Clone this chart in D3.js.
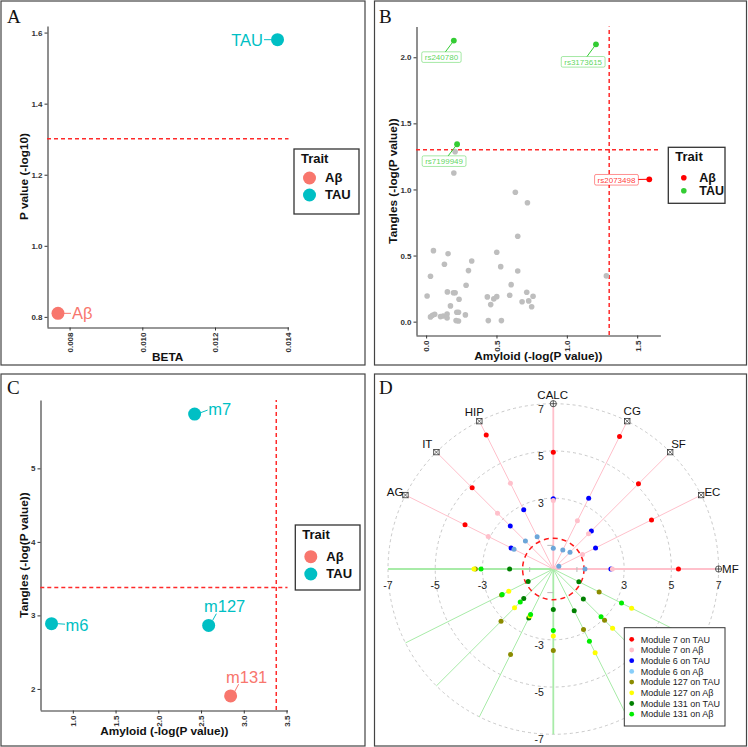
<!DOCTYPE html>
<html><head><meta charset="utf-8">
<script src="https://cdn.jsdelivr.net/npm/d3@7"></script>
<style>body{margin:0;background:#fff} svg{display:block}</style>
</head><body>
<svg id="fig" width="748" height="747"></svg>
<script>
// ---------- Panel A data ----------
const traitsA = ["Aβ", "TAU"];
const betaA = [0.00768, 0.01372];
const pvalA = [0.81, 1.58];
const thresholdA = 1.30103;
const xTicksA = [0.008, 0.010, 0.012, 0.014];
const yTicksA = [0.8, 1.0, 1.2, 1.4, 1.6];

// ---------- Panel B data ----------
const snpLabels = ["rs240780", "rs3173615", "rs7199949", "rs2073498"];
const snpTrait = ["TAU", "TAU", "TAU", "Aβ"];
const snpAmyloid = [0.197, 1.207, 0.220, 1.586];
const snpTangles = [2.126, 2.098, 1.342, 1.077];
const bgAmyloid = [0.206,0.197,0.634,0.720,0.651,0.052,0.156,0.502,0.324,0.130,0.530,0.301,0.651,0.031,1.281,0.284,0.604,0.007,0.151,0.194,0.206,0.234,0.173,0.435,0.502,0.481,0.459,0.594,0.715,0.760,0.682,0.729,0.750,0.031,0.045,0.061,0.102,0.121,0.149,0.149,0.218,0.230,0.213,0.230,0.279,0.442,0.535];
const bgTangles = [1.286,1.125,0.979,0.900,0.646,0.537,0.514,0.525,0.459,0.434,0.416,0.386,0.383,0.343,0.346,0.275,0.280,0.194,0.225,0.219,0.219,0.169,0.119,0.187,0.189,0.172,0.129,0.200,0.222,0.192,0.151,0.157,0.113,0.036,0.048,0.056,0.038,0.043,0.058,0.028,0.071,0.071,0.008,0.005,0.051,0.008,0.008];
const thresholdB = 1.30103;
const xTicksB = [0, 0.5, 1.0, 1.5];
const yTicksB = [0, 0.5, 1.0, 1.5, 2.0];

// ---------- Panel C data ----------
const moduleLabels = ["m7", "m6", "m127", "m131"];
const moduleTrait = ["TAU", "TAU", "TAU", "Aβ"];
const modAmyloid = [2.425, 0.751, 2.589, 2.846];
const modTangles = [5.738, 2.887, 2.864, 1.905];
const thresholdC = 3.38;
const xTicksC = [1.0, 1.5, 2.0, 2.5, 3.0, 3.5];
const yTicksC = [2, 3, 4, 5];

// ---------- Panel D data ----------
const regions = ["MF", "EC", "SF", "CG", "CALC", "HIP", "IT", "AG"];
const regionAngles = [0, 26.57, 45, 63.43, 90, 116.57, 135, 153.43];
const regionMarker = ["plus", "box", "box", "box", "plus", "box", "box", "box"];
const seriesNames = ["Module 7 on TAU", "Module 7 on Aβ", "Module 6 on TAU", "Module 6 on Aβ",
                     "Module 127 on TAU", "Module 127 on Aβ", "Module 131 on TAU", "Module 131 on Aβ"];
const m7TAU   = [5.30, 4.65, 5.10, 6.27, 4.94, 6.35, 4.86, 4.18];
const m7Ab    = [2.50, 1.38, 2.11, 2.28, 2.90, 4.06, 3.34, 3.08];
const m6TAU   = [2.44, 2.00, 2.28, 3.35, 2.97, 2.80, 2.58, 2.00];
const m6Ab    = [1.34, 0.26, 1.00, 0.90, 0.88, 1.53, 1.67, 1.86];
const m127TAU = [-3.30, -2.45, -3.13, -4.05, -3.45, -2.86, -3.07, -2.17];
const m127Ab  = [-3.36, -2.11, -2.32, -2.22, -2.84, -3.96, -3.55, -3.71];
const m131TAU = [-1.85, -1.19, -1.77, -2.32, -1.72, -1.98, -1.80, -1.21];
const m131Ab  = [-3.06, -2.42, -1.98, -2.15, -2.60, -3.42, -2.86, -3.23];
const seriesValues = [m7TAU, m7Ab, m6TAU, m6Ab, m127TAU, m127Ab, m131TAU, m131Ab];
const thresholdD = 1.30103;
const gridRadiiD = [3, 5, 7];
const axisLabelsD = [-7, -5, -3, 3, 5, 7];

// ---------- styles ----------
const SANS = "'Liberation Sans', Arial, Helvetica, sans-serif";
const SERIF = "'Liberation Serif', 'Times New Roman', serif";
const traitColorAC = {"Aβ": "#F8766D", "TAU": "#00BFC4"};
const traitColorB = {"Aβ": "#FF0000", "TAU": "#33CC33"};
const seriesColors = ["#FF0000", "#FFC0CB", "#0000FF", "#6CA6D9", "#8B8B00", "#FFFF00", "#008000", "#00EE00"];
const legendColorsD = ["#FF0000", "#FFC0CB", "#0000FF", "#87CEFA", "#8B8B00", "#FFFF00", "#008000", "#00EE00"];
const drawOrderD = [0, 2, 1, 3, 4, 6, 5, 7];
const snap = v => Math.round(v - 0.5) + 0.5;

const svg = d3.select("#fig");
svg.append("rect").attr("width", 748).attr("height", 747).attr("fill", "#fff");

// panel borders
[[1, 1, 364, 364], [374.5, 1, 372, 364], [1, 374, 364, 372], [374.5, 374, 372, 372]].forEach(([x, y, w, h]) => {
  svg.append("rect").attr("x", x).attr("y", y).attr("width", w).attr("height", h)
    .attr("fill", "none").attr("stroke", "#444").attr("stroke-width", 1.2);
});

// panel letters
[["A", 7, 23], ["B", 379, 23], ["C", 7, 394], ["D", 379, 394]].forEach(([t, x, y]) => {
  svg.append("text").attr("x", x).attr("y", y).text(t)
    .attr("font-family", SERIF).attr("font-size", 19).attr("fill", "#111");
});

function expand(vals) {
  const e = d3.extent(vals), p = (e[1] - e[0]) * 0.05;
  return [e[0] - p, e[1] + p];
}

function drawAxes(x, y, xTicks, yTicks, xFmt, yFmt, xTitle, yTitle, xTitlePos, yTitlePos) {
  const x0 = x.range()[0], y0 = y.range()[0];
  const ga = svg.append("g");
  const ax = ga.append("g").attr("transform", `translate(0,${snap(y0)})`)
    .call(d3.axisBottom(x).tickValues(xTicks).tickFormat(d3.format(xFmt)).tickSize(3).tickSizeOuter(0));
  ax.selectAll("text").attr("transform", "rotate(-90)").attr("x", -5).attr("y", 0).attr("dy", "0.35em")
    .attr("text-anchor", "end");
  const ay = ga.append("g").attr("transform", `translate(${snap(x0)},0)`)
    .call(d3.axisLeft(y).tickValues(yTicks).tickFormat(d3.format(yFmt)).tickSize(3).tickSizeOuter(0));
  ay.selectAll("text").attr("x", -5);
  ga.selectAll(".domain").attr("stroke", "#333").attr("stroke-width", 1.1);
  ga.selectAll(".tick line").attr("stroke", "#333");
  ga.selectAll(".tick text").attr("font-family", SANS).attr("font-size", 8)
    .attr("font-weight", "bold").attr("fill", "#333");
  svg.append("text").attr("x", xTitlePos[0]).attr("y", xTitlePos[1]).attr("text-anchor", "middle")
    .attr("font-family", SANS).attr("font-size", 11.8).attr("font-weight", "bold").attr("fill", "#111").text(xTitle);
  svg.append("text").attr("transform", `translate(${yTitlePos[0]},${yTitlePos[1]}) rotate(-90)`)
    .attr("text-anchor", "middle").attr("font-family", SANS).attr("font-size", 11.8)
    .attr("font-weight", "bold").attr("fill", "#111").text(yTitle);
}

function drawLegend(box, colors, r, itemY, fs) {
  const [bx, by, bw, bh] = box;
  svg.append("rect").attr("x", bx).attr("y", by).attr("width", bw).attr("height", bh)
    .attr("fill", "#fff").attr("stroke", "#333").attr("stroke-width", 1.3);
  svg.append("text").attr("x", bx + 7).attr("y", by + 13.5).text("Trait")
    .attr("font-family", SANS).attr("font-size", 13).attr("font-weight", "bold").attr("fill", "#111");
  traitsA.forEach((t, i) => {
    const cy = by + itemY[i];
    svg.append("circle").attr("cx", bx + 15.5).attr("cy", cy).attr("r", r).attr("fill", colors[t]);
    svg.append("text").attr("x", bx + 31).attr("y", cy + 4.4).text(t)
      .attr("font-family", SANS).attr("font-size", fs).attr("font-weight", "bold").attr("fill", "#111");
  });
}

function dashedH(x, y, v) {
  svg.append("line").attr("x1", x.range()[0]).attr("x2", x.range()[1]).attr("y1", y(v)).attr("y2", y(v))
    .attr("stroke", "#FF2A2A").attr("stroke-width", 1.5).attr("stroke-dasharray", "4,3");
}
function dashedV(x, y, v) {
  svg.append("line").attr("y1", y.range()[0]).attr("y2", y.range()[1]).attr("x1", x(v)).attr("x2", x(v))
    .attr("stroke", "#FF2A2A").attr("stroke-width", 1.5).attr("stroke-dasharray", "4,3");
}

// ================= Panel A =================
{
  const x = d3.scaleLinear().domain(expand(betaA)).range([47, 288.5]);
  const y = d3.scaleLinear().domain(expand(pvalA)).range([327, 26]);
  drawAxes(x, y, xTicksA, yTicksA, ".3f", ".1f", "BETA", "P value (-log10)", [167.7, 361], [27.5, 176.5]);
  dashedH(x, y, thresholdA);
  const labelOff = [{dx: 14, anchor: "start"}, {dx: -14.5, anchor: "end"}];
  traitsA.forEach((t, i) => {
    const px = x(betaA[i]), py = y(pvalA[i]), o = labelOff[i];
    const s = Math.sign(o.dx);
    svg.append("line").attr("x1", px + s * 6).attr("x2", px + o.dx - s * 1).attr("y1", py).attr("y2", py)
      .attr("stroke", traitColorAC[t]).attr("stroke-width", 1);
    svg.append("circle").attr("cx", px).attr("cy", py).attr("r", 6.5).attr("fill", traitColorAC[t]);
    svg.append("text").attr("x", px + o.dx).attr("y", py + 6).attr("text-anchor", o.anchor).text(t)
      .attr("font-family", SANS).attr("font-size", 16.5).attr("fill", traitColorAC[t]);
  });
  drawLegend([294, 149, 65, 65], traitColorAC, 6.5, [29, 46], 13);
}

// ================= Panel B =================
{
  const allX = bgAmyloid.concat(snpAmyloid, [thresholdB]);
  const allY = bgTangles.concat(snpTangles, [thresholdB]);
  const x = d3.scaleLinear().domain(expand(allX)).range([416, 660.4]);
  const y = d3.scaleLinear().domain(expand(allY)).range([335, 26.6]);
  drawAxes(x, y, xTicksB, yTicksB, ".1f", ".1f", "Amyloid (-log(P value))", "Tangles (-log(P value))", [538.3, 360], [397, 181]);
  dashedH(x, y, thresholdB);
  dashedV(x, y, thresholdB);
  bgAmyloid.forEach((a, i) => {
    svg.append("circle").attr("cx", x(a)).attr("cy", y(bgTangles[i])).attr("r", 2.8).attr("fill", "#BEBEBE");
  });
  const boxOff = [[-12.4, 16.5], [-12.8, 17.5], [-13, 16.9], [-32.8, 0.5]];
  snpLabels.forEach((lab, i) => {
    const px = x(snpAmyloid[i]), py = y(snpTangles[i]);
    const col = traitColorB[snpTrait[i]];
    const cx = px + boxOff[i][0], cy = py + boxOff[i][1];
    const g = svg.append("g");
    const txt = g.append("text").attr("x", cx).attr("y", cy + 2.9).attr("text-anchor", "middle").text(lab)
      .attr("font-family", SANS).attr("font-size", 8).attr("fill", col).attr("fill-opacity", 0.8);
    const w = txt.node().getComputedTextLength() + 6, h = 10.6;
    const bx0 = cx - w / 2, by0 = cy - h / 2;
    g.insert("rect", "text").attr("x", bx0).attr("y", by0).attr("width", w).attr("height", h).attr("rx", 1.5)
      .attr("fill", "#fff").attr("stroke", col).attr("stroke-opacity", 0.55).attr("stroke-width", 0.8);
    const dx = cx - px, dy = cy - py;
    let t = 1;
    if (dx !== 0) { const tx = ((dx > 0 ? bx0 : bx0 + w) - px) / dx; if (tx > 0 && tx < t) t = tx; }
    if (dy !== 0) { const ty = ((dy > 0 ? by0 : by0 + h) - py) / dy; if (ty > 0 && ty < t) t = ty; }
    const ex = px + dx * t, ey = py + dy * t;
    svg.append("line").attr("x1", px).attr("y1", py).attr("x2", ex).attr("y2", ey)
      .attr("stroke", col).attr("stroke-width", 1);
    svg.append("circle").attr("cx", px).attr("cy", py).attr("r", 2.9).attr("fill", col);
  });
  drawLegend([668.3, 147.3, 56.7, 56], traitColorB, 2.8, [30.4, 43.4], 12.5);
}

// ================= Panel C =================
{
  const x = d3.scaleLinear().domain(expand(modAmyloid.concat([thresholdC]))).range([40.3, 287.5]);
  const y = d3.scaleLinear().domain(expand(modTangles)).range([710, 400]);
  drawAxes(x, y, xTicksC, yTicksC, ".1f", "d", "Amyloid (-log(P value))", "Tangles (-log(P value))", [164.3, 735], [27.5, 555]);
  dashedH(x, y, thresholdC);
  dashedV(x, y, thresholdC);
  const lab = [
    {tx: 13.7, ty: -4.7, anchor: "start", s: [6.3, -1.5, 13, -4]},
    {tx: 14, ty: 1, anchor: "start", s: [6.5, 0, 13.5, 0.5]},
    {tx: 16, ty: -19, anchor: "middle", s: [4, -5, 7.7, -11.7]},
    {tx: 16, ty: -19.3, anchor: "middle", s: [4, -4.3, 8, -11.7]}
  ];
  moduleLabels.forEach((m, i) => {
    const px = x(modAmyloid[i]), py = y(modTangles[i]), o = lab[i];
    const col = traitColorAC[moduleTrait[i]];
    svg.append("line").attr("x1", px + o.s[0]).attr("y1", py + o.s[1]).attr("x2", px + o.s[2]).attr("y2", py + o.s[3])
      .attr("stroke", col).attr("stroke-width", 1);
    svg.append("circle").attr("cx", px).attr("cy", py).attr("r", 6.5).attr("fill", col);
    svg.append("text").attr("x", px + o.tx).attr("y", py + o.ty + 6).attr("text-anchor", o.anchor).text(m)
      .attr("font-family", SANS).attr("font-size", 16.5).attr("fill", col);
  });
  drawLegend([295.3, 525, 64.7, 65], traitColorAC, 6.5, [31.7, 49], 13);
}

// ================= Panel D =================
{
  const cx = 553.3, cy = 569;
  const r = d3.scaleLinear().domain([0, 7]).range([0, 165.3]);
  const pos = (deg, v) => {
    const a = (deg + (v < 0 ? 180 : 0)) * Math.PI / 180, rr = r(Math.abs(v));
    return [cx + rr * Math.cos(a), cy - rr * Math.sin(a)];
  };
  const g = svg.append("g");
  gridRadiiD.forEach(v => {
    g.append("circle").attr("cx", cx).attr("cy", cy).attr("r", r(v)).attr("fill", "none")
      .attr("stroke", "#BBBBBB").attr("stroke-width", 0.8).attr("stroke-dasharray", "3,3");
  });
  regionAngles.forEach((a, i) => {
    const axisAligned = (a % 90 === 0);
    const pn = pos(a, -7), pp = pos(a, 7);
    g.append("line").attr("x1", cx).attr("y1", cy).attr("x2", pn[0]).attr("y2", pn[1])
      .attr("stroke", "#A8EBA8").attr("stroke-width", axisAligned ? 1.8 : 1);
    g.append("line").attr("x1", cx).attr("y1", cy).attr("x2", pp[0]).attr("y2", pp[1])
      .attr("stroke", "#FFC0CB").attr("stroke-width", axisAligned ? 1.8 : 1);
  });
  [[0, 1], [0, -1], [90, 1], [90, -1]].forEach(([a, v]) => {
    const p = pos(a, v);
    if (a === 0) g.append("line").attr("x1", p[0]).attr("x2", p[0]).attr("y1", p[1] - 2).attr("y2", p[1] + 3).attr("stroke", "#BBB");
    else g.append("line").attr("x1", p[0] - 6).attr("x2", p[0]).attr("y1", p[1]).attr("y2", p[1]).attr("stroke", "#BBB");
  });
  g.append("circle").attr("cx", cx).attr("cy", cy).attr("r", r(thresholdD)).attr("fill", "none")
    .attr("stroke", "#FF1A1A").attr("stroke-width", 1.5).attr("stroke-dasharray", "5,4");
  axisLabelsD.forEach(v => {
    const ph = pos(0, v);
    g.append("text").attr("x", ph[0]).attr("y", cy + 19.5).attr("text-anchor", "middle").text(v)
      .attr("font-family", SANS).attr("font-size", 10.5).attr("fill", "#222");
    const pv = pos(90, v);
    g.append("text").attr("x", cx - 9.5).attr("y", pv[1] + 8.8).attr("text-anchor", "end").text(v)
      .attr("font-family", SANS).attr("font-size", 10.5).attr("fill", "#222");
  });
  const labOff = [
    {dx: 3.5, dy: 0, anchor: "start"}, {dx: 3.3, dy: -3.3, anchor: "start"},
    {dx: 1, dy: -7.7, anchor: "start"}, {dx: 5, dy: -10, anchor: "middle"},
    {dx: -0.6, dy: -8.3, anchor: "middle"}, {dx: -5, dy: -9.3, anchor: "middle"},
    {dx: -4, dy: -7.7, anchor: "end"}, {dx: -2, dy: -2.6, anchor: "end"}
  ];
  regions.forEach((name, i) => {
    const [mx, my] = pos(regionAngles[i], 7);
    if (regionMarker[i] === "plus") {
      g.append("circle").attr("cx", mx).attr("cy", my).attr("r", 3.1).attr("fill", "#fff").attr("stroke", "#333").attr("stroke-width", 0.8);
      g.append("path").attr("d", `M${mx - 3.1},${my}H${mx + 3.1}M${mx},${my - 3.1}V${my + 3.1}`).attr("stroke", "#333").attr("stroke-width", 0.8);
    } else {
      const s = 2.7;
      g.append("rect").attr("x", mx - s).attr("y", my - s).attr("width", 2 * s).attr("height", 2 * s)
        .attr("fill", "#fff").attr("stroke", "#333").attr("stroke-width", 0.8);
      g.append("path").attr("d", `M${mx - s},${my - s}L${mx + s},${my + s}M${mx + s},${my - s}L${mx - s},${my + s}`)
        .attr("stroke", "#333").attr("stroke-width", 0.7);
    }
    const o = labOff[i];
    g.append("text").attr("x", mx + o.dx).attr("y", my + o.dy + 4).attr("text-anchor", o.anchor).text(name)
      .attr("font-family", SANS).attr("font-size", 11.5).attr("fill", "#111");
  });
  drawOrderD.forEach(si => {
    seriesValues[si].forEach((v, i) => {
      const [px, py] = pos(regionAngles[i], v);
      g.append("circle").attr("cx", px).attr("cy", py).attr("r", 2.5).attr("fill", seriesColors[si]);
    });
  });
  const lx = 624.3, ly = 627.7;
  g.append("rect").attr("x", lx).attr("y", ly).attr("width", 100.7).attr("height", 98.3)
    .attr("fill", "#fff").attr("stroke", "#333").attr("stroke-width", 1);
  seriesNames.forEach((n, i) => {
    const yy = ly + 11.6 + i * 10.7;
    g.append("circle").attr("cx", lx + 7.4).attr("cy", yy).attr("r", 2.4).attr("fill", legendColorsD[i]);
    g.append("text").attr("x", lx + 16.4).attr("y", yy + 3.2).text(n)
      .attr("font-family", SANS).attr("font-size", 9).attr("fill", "#222");
  });
}
</script>
</body></html>
